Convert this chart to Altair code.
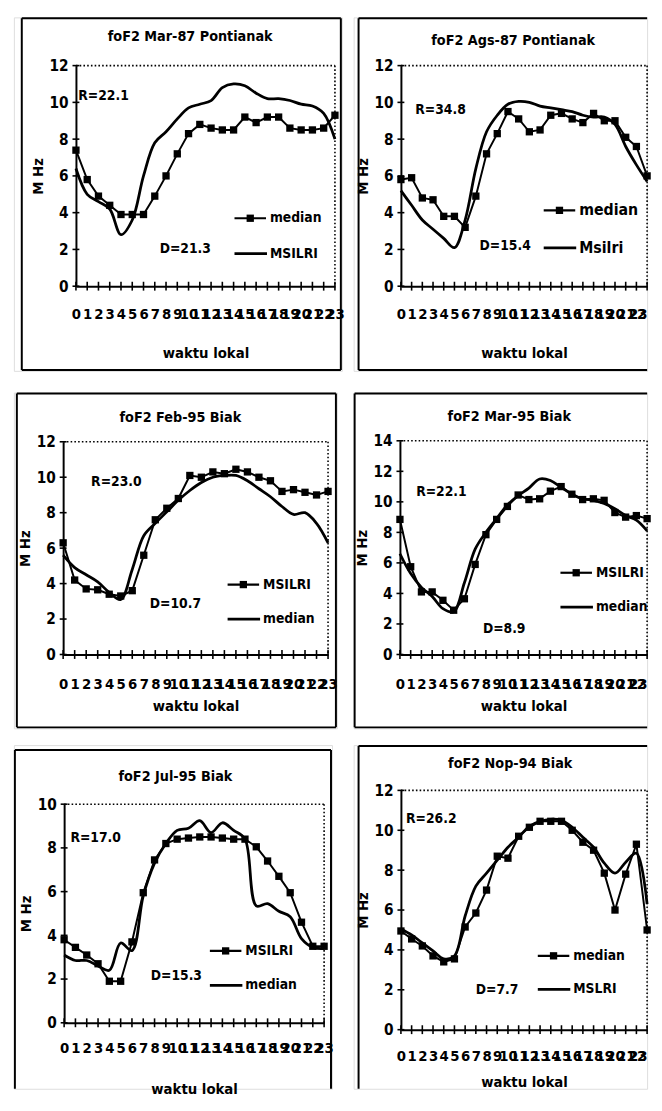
import altair as alt
import pandas as pd

HOURS = list(range(24))

TITLES = ["foF2 Mar-87 Pontianak", "foF2 Ags-87 Pontianak", "foF2 Feb-95 Biak",
          "foF2 Mar-95 Biak", "foF2 Jul-95 Biak", "foF2 Nop-94 Biak"]
MARKER_NAMES = ["median", "median", "MSILRI", "MSILRI", "MSILRI", "median"]
LINE_NAMES = ["MSILRI", "Msilri", "median", "median", "median", "MSLRI"]
R_TEXT = ["R=22.1", "R=34.8", "R=23.0", "R=22.1", "R=17.0", "R=26.2"]
D_TEXT = ["D=21.3", "D=15.4", "D=10.7", "D=8.9", "D=15.3", "D=7.7"]
Y_MAX = [12, 12, 12, 14, 10, 12]

# series drawn with square markers
MARKER_VALUES = [
    [7.4, 5.8, 4.9, 4.4, 3.9, 3.9, 3.9, 4.9, 6.0, 7.2, 8.3, 8.8, 8.6, 8.5, 8.5, 9.2, 8.9, 9.2, 9.2, 8.6, 8.5, 8.5, 8.6, 9.3],
    [5.8, 5.9, 4.8, 4.7, 3.8, 3.8, 3.2, 4.9, 7.2, 8.3, 9.5, 9.1, 8.4, 8.5, 9.3, 9.4, 9.1, 8.9, 9.4, 9.0, 9.0, 8.1, 7.6, 6.0],
    [6.3, 4.2, 3.7, 3.65, 3.4, 3.3, 3.6, 5.6, 7.6, 8.25, 8.8, 10.1, 10.0, 10.3, 10.2, 10.45, 10.3, 10.0, 9.8, 9.2, 9.3, 9.15, 9.0, 9.2],
    [8.85, 5.75, 4.1, 4.1, 3.55, 2.9, 3.65, 5.9, 7.85, 8.85, 9.7, 10.45, 10.15, 10.2, 10.7, 11.0, 10.5, 10.15, 10.2, 10.1, 9.3, 9.0, 9.1, 8.9],
    [3.8, 3.45, 3.1, 2.7, 1.9, 1.9, 3.7, 5.95, 7.45, 8.2, 8.4, 8.45, 8.5, 8.5, 8.45, 8.4, 8.4, 8.05, 7.4, 6.7, 5.95, 4.6, 3.5, 3.5],
    [4.95, 4.55, 4.2, 3.7, 3.4, 3.55, 5.15, 5.85, 7.0, 8.7, 8.6, 9.7, 10.15, 10.45, 10.45, 10.45, 10.0, 9.4, 9.0, 7.85, 6.0, 7.8, 9.3, 5.0],
]
# series drawn as a smoothed solid line
LINE_VALUES = [
    [6.4, 5.0, 4.6, 4.2, 2.8, 3.6, 6.0, 7.8, 8.4, 9.1, 9.7, 9.9, 10.1, 10.8, 11.0, 10.9, 10.5, 10.2, 10.2, 10.1, 9.9, 9.8, 9.4, 8.0],
    [5.2, 4.4, 3.6, 3.1, 2.6, 2.1, 3.6, 6.4, 8.4, 9.3, 9.9, 10.05, 10.0, 9.8, 9.7, 9.6, 9.5, 9.3, 9.2, 9.2, 8.8, 7.6, 6.6, 5.7],
    [5.6, 4.9, 4.5, 4.1, 3.5, 3.1, 4.8, 6.7, 7.4, 8.05, 8.7, 9.25, 9.7, 10.0, 10.1, 10.1, 9.8, 9.35, 8.9, 8.35, 7.9, 8.0, 7.4, 6.3],
    [6.6, 5.3, 4.4, 3.8, 3.0, 2.8, 4.7, 6.9, 8.0, 8.9, 9.8, 10.4, 10.9, 11.5, 11.4, 10.95, 10.5, 10.2, 10.1, 9.9, 9.55, 9.1, 8.8, 8.1],
    [3.1, 2.85, 2.85, 2.6, 2.4, 3.65, 3.3, 5.8, 7.3, 8.2, 8.8, 8.9, 9.25, 8.7, 9.15, 8.8, 8.4, 5.35, 5.45, 5.1, 4.85, 3.85, 3.45, 3.4],
    [5.05, 4.75, 4.35, 3.95, 3.55, 3.7, 5.7, 7.2, 7.85, 8.5, 9.15, 9.65, 10.2, 10.45, 10.55, 10.5, 10.15, 9.65, 9.15, 8.35, 7.85, 8.4, 8.85, 6.3],
]

# ---- layout (page pixel coordinates) ----
# box = panel group extent (its top-left is the group origin); plot = data rectangle;
# frame + sides = visible panel border
LAYOUT = [
    dict(box=(13, 8, 346, 367), plot=(76, 57, 263, 224), frame=(21, 9, 345, 366), sides="LTRB",
         right=False, title=(192, 28), xlab=28, xtitle=67, legend=(237, 212, 36), lfs=14,
         rpos=(2.45, 10.34), dpos=(9.71, 2.04)),
    dict(box=(356, 8, 654, 367), plot=(404, 57, 250, 224), frame=(361, 9, 654, 366), sides="LTB",
         right=True, title=(518, 32), xlab=28, xtitle=67, legend=(549, 204, 38), lfs=16,
         rpos=(3.70, 9.59), dpos=(9.74, 2.20)),
    dict(box=(13, 387, 341, 728), plot=(63, 437, 269, 216), frame=(16, 388, 340, 727), sides="LTRB",
         right=False, title=(182, 413), xlab=30, xtitle=52, legend=(230, 582, 35), lfs=14,
         rpos=(4.62, 9.72), dpos=(9.75, 2.83)),
    dict(box=(356, 387, 654, 728), plot=(403, 436, 251, 217), frame=(357, 388, 654, 727), sides="LTB",
         right=True, title=(514, 412), xlab=30, xtitle=52, legend=(566, 570, 35), lfs=14,
         rpos=(3.86, 10.65), dpos=(9.70, 1.68)),
    dict(box=(13, 743, 336, 1092), plot=(64, 803, 264, 222), frame=(14, 748, 335, 1092), sides="LTR",
         right=False, title=(177, 775), xlab=25, xtitle=67, legend=(212, 952, 35), lfs=14,
         rpos=(2.79, 8.47), dpos=(9.93, 2.16)),
    dict(box=(356, 743, 654, 1092), plot=(404, 789, 250, 243), frame=(361, 744, 654, 1092), sides="LT",
         right=True, title=(515, 762), xlab=26, xtitle=53, legend=(543, 957, 34), lfs=14,
         rpos=(2.84, 10.57), dpos=(8.98, 1.98)),
]

FONT = "Liberation Sans Narrow, Arial Narrow, DejaVu Sans Condensed, Roboto Condensed, sans-serif"
ONE = pd.DataFrame({"k": [0]})


def make_panel(i):
    L = LAYOUT[i]
    gx, gy, gx2, gy2 = L["box"]
    gw, gh = gx2 - gx, gy2 - gy
    px, py, w, h = L["plot"]
    left, top = px - gx, py - gy          # data rectangle inside the group
    bottom = top + h
    ymax = Y_MAX[i]
    yvals = list(range(0, ymax + 1, 2))
    m_name, l_name = MARKER_NAMES[i], LINE_NAMES[i]

    def vx(x):
        return alt.value(x - gx)

    def vy(y):
        return alt.value(y - gy)

    def rule(x1, y1, x2, y2, width=2, dash=None):
        kw = dict(color="black", strokeWidth=width)
        if dash:
            kw["strokeDash"] = dash
        return alt.Chart(ONE).mark_rule(**kw).encode(x=vx(x1), x2=vx(x2), y=vy(y1), y2=vy(y2))

    def text(s, x, y, size, align="center"):
        return alt.Chart(ONE).mark_text(font=FONT, fontSize=size, fontWeight="bold", color="black",
                                        align=align, baseline="middle").encode(
            x=vx(x), y=vy(y), text=alt.value(s))

    df_m = pd.DataFrame({"hour": HOURS, "value": MARKER_VALUES[i]})
    df_l = pd.DataFrame({"hour": HOURS, "value": LINE_VALUES[i]})
    df_xt = pd.DataFrame({"hour": HOURS, "value": [0] * len(HOURS)})
    df_yt = pd.DataFrame({"hour": [0] * len(yvals), "value": yvals})
    df_txt = pd.DataFrame({"hour": [L["rpos"][0], L["dpos"][0]],
                           "value": [L["rpos"][1], L["dpos"][1]],
                           "t": [R_TEXT[i], D_TEXT[i]]})

    if L["right"]:
        label_align = alt.condition("datum.value == 23", alt.value("right"), alt.value("center"))
    else:
        label_align = "center"

    X = alt.X("hour:Q", scale=alt.Scale(domain=[0, 23], nice=False, zero=False, range=[left, left + w]),
              axis=alt.Axis(values=HOURS, format="d", title="waktu lokal", offset=bottom - gh,
                            titleFont=FONT, titleFontSize=15, titleFontWeight="bold", titleColor="black",
                            titleX=left + w / 2, titleY=L["xtitle"], titleBaseline="middle", titleAlign="center",
                            labelFont=FONT, labelFontSize=15, labelFontWeight="bold", labelColor="black",
                            labelPadding=L["xlab"], labelBaseline="middle", labelAngle=0,
                            labelAlign=label_align,
                            labelOverlap=False, labelFlush=False,
                            ticks=False, grid=False, domainColor="black", domainWidth=2))
    Y = alt.Y("value:Q", scale=alt.Scale(domain=[0, ymax], nice=False, zero=True, range=[bottom, top]),
              axis=alt.Axis(values=yvals, format="d", title="M Hz", offset=-left,
                            titleFont=FONT, titleFontSize=15, titleFontWeight="bold", titleColor="black",
                            titleAngle=270, titleX=-39, titleY=top + h / 2, titleBaseline="middle",
                            titleAlign="center",
                            labelFont=FONT, labelFontSize=15.5, labelFontWeight="bold", labelColor="black",
                            labelPadding=8, labelOverlap=False, labelFlush=False,
                            ticks=False, grid=False, domainColor="black", domainWidth=2))

    fx1, fy1, fx2, fy2 = L["frame"]
    layers = [alt.Chart(ONE).mark_rect(opacity=0).encode(x=alt.value(0), x2=alt.value(gw),
                                                         y=alt.value(0), y2=alt.value(gh))]
    sides = L["sides"]
    if "L" in sides:
        layers.append(rule(fx1, fy1, fx1, fy2))
    if "T" in sides:
        layers.append(rule(fx1, fy1, fx2, fy1))
    if "R" in sides:
        layers.append(rule(fx2, fy1, fx2, fy2))
    if "B" in sides:
        layers.append(rule(fx1, fy2, fx2, fy2))

    # dotted plot-area border (top and right)
    layers.append(rule(px, py, px + w, py, width=1.6, dash=[1.6, 2.2]))
    layers.append(rule(px + w, py, px + w, py + h, width=1.6, dash=[1.6, 2.2]))

    tx, ty = L["title"]
    layers.append(text(TITLES[i], tx, ty, 14.5))

    layers.append(alt.Chart(df_xt).mark_tick(orient="vertical", size=9, thickness=1.6, color="black",
                                             opacity=1).encode(x=X, y=Y))
    layers.append(alt.Chart(df_yt).mark_tick(orient="horizontal", size=7, thickness=1.6, color="black",
                                             opacity=1).encode(x=X, y=Y))
    layers.append(alt.Chart(df_l).mark_line(color="black", strokeWidth=2.8,
                                            interpolate="catmull-rom").encode(x=X, y=Y))
    layers.append(alt.Chart(df_m).mark_line(color="black", strokeWidth=2).encode(x=X, y=Y))
    layers.append(alt.Chart(df_m).mark_square(size=55, color="black", opacity=1).encode(x=X, y=Y))
    layers.append(alt.Chart(df_txt).mark_text(font=FONT, fontSize=14, fontWeight="bold",
                                              color="black").encode(x=X, y=Y, text="t:N"))

    # legend (drawn as marks)
    sx, sy, gap = L["legend"]
    sy2 = sy + gap
    layers.append(rule(sx, sy, sx + 32, sy, width=2.2))
    layers.append(alt.Chart(ONE).mark_square(size=55, color="black", opacity=1).encode(
        x=vx(sx + 16), y=vy(sy)))
    layers.append(text(m_name, sx + 36, sy, L["lfs"], align="left"))
    layers.append(rule(sx, sy2, sx + 33, sy2, width=2.8))
    layers.append(text(l_name, sx + 36, sy2, L["lfs"], align="left"))

    return alt.layer(*layers).properties(width=gw, height=gh)


panels = [make_panel(i) for i in range(6)]

row1 = alt.hconcat(panels[0], panels[1], spacing=8)
row2 = alt.hconcat(panels[2], panels[3], spacing=15)
row3 = alt.hconcat(panels[4], panels[5], spacing=19)

chart = alt.vconcat(row1, alt.vconcat(row2, row3, spacing=15), spacing=20).properties(
    padding={"left": 5, "top": 0, "right": 0, "bottom": 0}
).configure_view(
    strokeWidth=0
).configure(background="white")

chart.save("out.html", embed_options={"renderer": "svg", "actions": False})
